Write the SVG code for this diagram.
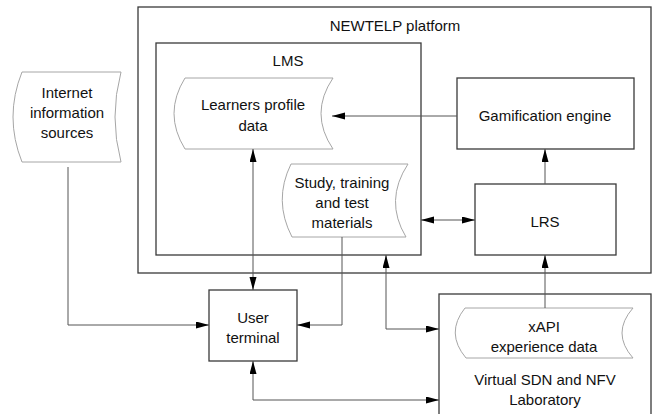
<svg xmlns="http://www.w3.org/2000/svg" width="658" height="414" viewBox="0 0 658 414">
<style>
  .box { fill: #ffffff; stroke: #3a3a3a; stroke-width: 1.3; }
  .cont { fill: none; stroke: #3a3a3a; stroke-width: 1.3; }
  .data { fill: #ffffff; stroke: #a6a6a6; stroke-width: 1; }
  .conn { fill: none; stroke: #555555; stroke-width: 1; }
  text { font-family: "Liberation Sans", Arial, sans-serif; font-size: 15px; fill: #111111; text-anchor: middle; }
</style>
<defs>
  <marker id="arr" markerUnits="userSpaceOnUse" markerWidth="14" markerHeight="8" refX="13" refY="3.5" orient="auto-start-reverse">
    <path d="M0,0 L13,3.5 L0,7 z" fill="#000000"/>
  </marker>
</defs>
<rect width="658" height="414" fill="#ffffff"/>

<g id="newtelp">
  <rect class="cont" x="138" y="7" width="513" height="266"/>
  <text x="395" y="31">NEWTELP platform</text>
</g>
<g id="lms">
  <rect class="cont" x="156" y="43" width="265" height="212"/>
  <text x="288" y="66">LMS</text>
</g>
<g id="internet">
  <path class="data" d="M22,72 L121,72 Q109,117 121,162 L22,162 Q4,117 22,72 Z"/>
  <text x="67" y="98">Internet</text>
  <text x="67" y="118">information</text>
  <text x="67" y="138">sources</text>
</g>
<g id="learners">
  <path class="data" d="M185,78 L333,78 Q309,113.5 333,149 L185,149 Q163,113.5 185,78 Z"/>
  <text x="253" y="110">Learners profile</text>
  <text x="253" y="131">data</text>
</g>
<g id="study">
  <path class="data" d="M291,164 L408,164 Q384,200.5 406,237 L292,237 Q273,200.5 291,164 Z"/>
  <text x="342" y="188">Study, training</text>
  <text x="342" y="208">and test</text>
  <text x="342" y="228">materials</text>
</g>
<g id="gamification">
  <rect class="box" x="457" y="78" width="177" height="71"/>
  <text x="545" y="121">Gamification engine</text>
</g>
<g id="lrs">
  <rect class="box" x="475" y="184" width="141" height="71"/>
  <text x="545" y="227">LRS</text>
</g>
<g id="user">
  <rect class="box" x="209" y="290" width="88" height="71"/>
  <text x="253" y="323">User</text>
  <text x="253" y="343">terminal</text>
</g>
<g id="lab">
  <rect class="box" x="439" y="294" width="212" height="124"/>
  <text x="545" y="385">Virtual SDN and NFV</text>
  <text x="545" y="405">Laboratory</text>
</g>
<g id="xapi">
  <path class="data" d="M465,308 L633,308 Q611,333 633,358 L466,358 Q445,333 465,308 Z"/>
  <text x="544" y="332">xAPI</text>
  <text x="544" y="352">experience data</text>
</g>

<g id="connectors">
  <line class="conn" x1="457" y1="116" x2="332" y2="116" marker-end="url(#arr)"/>
  <line class="conn" x1="545" y1="184" x2="545" y2="149" marker-end="url(#arr)"/>
  <line class="conn" x1="421" y1="220" x2="475" y2="220" marker-start="url(#arr)" marker-end="url(#arr)"/>
  <line class="conn" x1="253" y1="149" x2="253" y2="290" marker-start="url(#arr)" marker-end="url(#arr)"/>
  <polyline class="conn" points="68,167 68,325 209,325" marker-end="url(#arr)"/>
  <polyline class="conn" points="342,237 342,325 297,325" marker-end="url(#arr)"/>
  <polyline class="conn" points="386,255 386,329 439,329" marker-start="url(#arr)" marker-end="url(#arr)"/>
  <line class="conn" x1="545" y1="308" x2="545" y2="255" marker-end="url(#arr)"/>
  <polyline class="conn" points="253,361 253,400 439,400" marker-start="url(#arr)" marker-end="url(#arr)"/>
</g>
</svg>
